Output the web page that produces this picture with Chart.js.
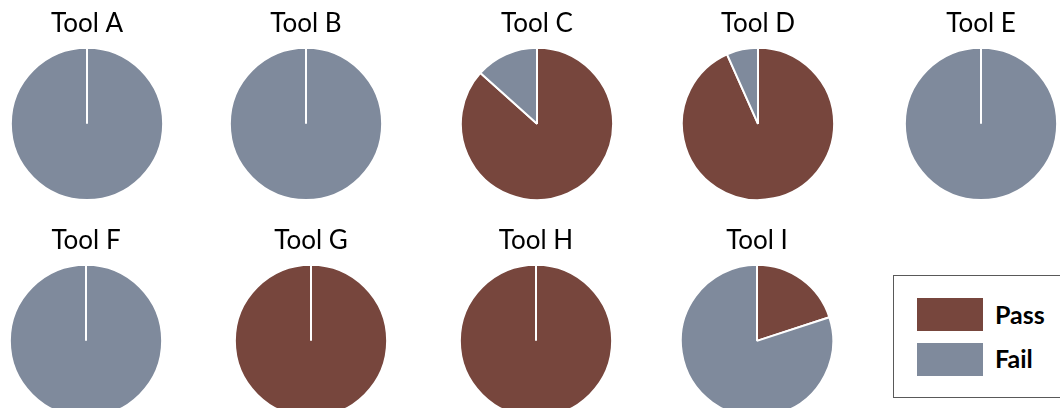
<!DOCTYPE html>
<html>
<head>
<meta charset="utf-8">
<script src="https://cdn.jsdelivr.net/npm/chart.js@4/dist/chart.umd.min.js"></script>
<style>
  body { margin: 0; background: #fff; width: 1060px; height: 408px; overflow: hidden; position: relative; font-family: Lato, sans-serif; }
  .pie { position: absolute; }
  #legend { position: absolute; left: 893px; top: 275px; width: 180px; height: 123px; border: 1px solid #595959; box-sizing: border-box; }
  .sw { position: absolute; left: 23px; width: 66px; height: 33px; }
  .lbl { position: absolute; left: 101px; font: bold 25px Lato, sans-serif; line-height: 30px; color: #000; }
</style>
</head>
<body>
<div id="charts"></div>
<div id="legend">
  <div class="sw" id="swPass" style="top:22px"></div><div class="lbl" id="lblPass" style="top:23px"></div>
  <div class="sw" id="swFail" style="top:67px"></div><div class="lbl" id="lblFail" style="top:67px"></div>
</div>
<script>
// data (counts out of 15 per tool)
const tools = ['Tool A', 'Tool B', 'Tool C', 'Tool D', 'Tool E', 'Tool F', 'Tool G', 'Tool H', 'Tool I']
const seriesLabels = ['Pass', 'Fail']
const passCounts = [0, 0, 13, 14, 0, 0, 15, 15, 3]
const failCounts = [15, 15, 2, 1, 15, 15, 0, 0, 12]
const colors = ['#77463D', '#7F8A9C']

// pie centres on the page
const centers = [[87, 124], [306, 124], [537, 124], [758, 124], [981, 124],
                 [86, 341], [311, 341], [536, 341], [757, 341]]

const holder = document.getElementById('charts')

tools.forEach((name, i) => {
    const cv = document.createElement('canvas')
    cv.className = 'pie'
    cv.width = 220
    cv.height = 201
    cv.style.left = (centers[i][0] - 110) + 'px'
    cv.style.top = (centers[i][1] - 124) + 'px'
    holder.appendChild(cv)

    new Chart(cv, {
        type: 'pie',
        data: {
            labels: seriesLabels,
            datasets: [{
                data: [passCounts[i], failCounts[i]],
                backgroundColor: colors,
                borderColor: '#ffffff',
                borderWidth: 2,
            }]
        },
        options: {
            responsive: false,
            animation: false,
            events: [],
            layout: { padding: 0 },
            plugins: {
                legend: { display: false },
                tooltip: { enabled: false },
                title: {
                    display: true,
                    text: name,
                    color: '#000',
                    font: { family: 'Lato', size: 26, weight: 'normal', lineHeight: 1.2 },
                    padding: { top: 8, bottom: 7.5 }
                }
            }
        }
    })
})

document.getElementById('swPass').style.background = colors[0]
document.getElementById('swFail').style.background = colors[1]
document.getElementById('lblPass').textContent = seriesLabels[0]
document.getElementById('lblFail').textContent = seriesLabels[1]
</script>
</body>
</html>
